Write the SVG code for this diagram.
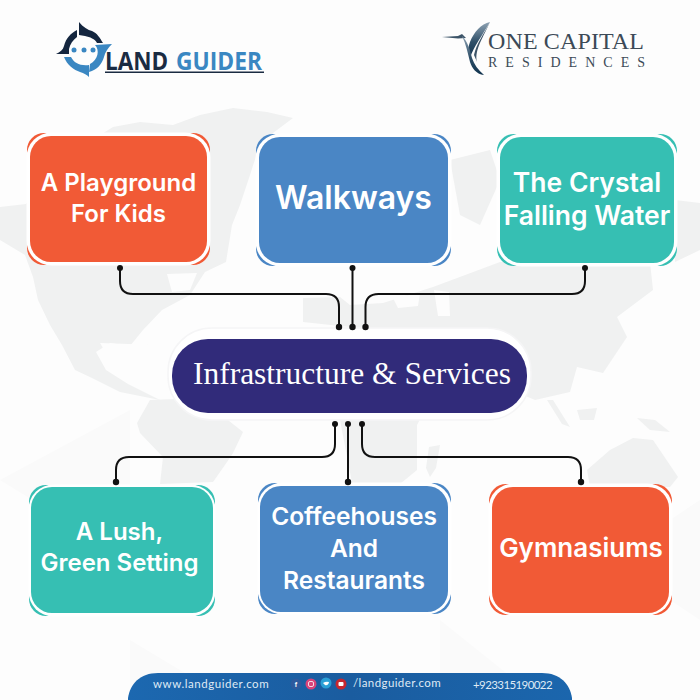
<svg xmlns="http://www.w3.org/2000/svg" width="700" height="700" viewBox="0 0 700 700">
  <style>
    .label { font-family: "Inter", "Liberation Sans", sans-serif; font-weight: 600; font-size: 24px; fill: #fff; text-anchor: middle; }
    .wire { fill: none; stroke: #111; stroke-width: 2; }
    .dot { fill: #111; }
    .halo { fill: #fff; }
    .orange { fill: #f15a36; }
    .blue { fill: #4a86c5; }
    .teal { fill: #36bfb3; }
    .land { fill: #f0f1f1; }
    .foot { font-family: "Lato", "Open Sans", sans-serif; font-size: 11.5px; fill: #dfeaf5; letter-spacing: .4px; }
    .brand { font-family: "Open Sans", sans-serif; font-weight: 700; font-size: 25px; }
  </style>
  <defs>
    <linearGradient id="footFill" x1="0" y1="0" x2="1" y2="0">
      <stop offset="0" stop-color="#1c68b0"/>
      <stop offset=".5" stop-color="#1a5c9f"/>
      <stop offset="1" stop-color="#1b66ad"/>
    </linearGradient>
    <linearGradient id="birdFill" x1="0" y1="0" x2="0" y2="1">
      <stop offset="0" stop-color="#8fa3b4"/>
      <stop offset=".55" stop-color="#2f5069"/>
      <stop offset="1" stop-color="#10324e"/>
    </linearGradient>
  </defs>

  <rect width="700" height="700" fill="#fdfdfd"/>
  <path fill="#fafafa" d="M130,640 L230,700 H130 Z M440,620 L540,700 H440 Z M0,480 L130,410 L130,560 Z M610,560 L700,500 V620 Z"/>

  <!-- world map backdrop -->
  <g id="map">
    <path class="land" d="M0,207 L26,204 L60,160 L113,127 L140,122 L173,125 L200,115 L233,108 L267,112 L293,118 L273,133 L258,150 L250,175 L240,205 L232,225 L226,262 L205,272 L190,295 L162,310 L143,330 L130,346 L110,343 L96,352 L106,370 L128,384 L160,400 L120,392 L92,378 L75,370 L62,345 L50,325 L38,300 L33,277 L25,255 L0,240 Z"/>
    <path class="land" d="M137,423 L150,400 L200,398 L243,432 L233,453 L227,462 L213,482 L160,484 L163,457 L140,433 Z"/>
    <path class="land" d="M303,298 L340,297 L350,305 L383,303 L433,287 L500,262 L650,262 L653,290 L617,317 L627,337 L603,373 L577,367 L570,392 L535,400 L500,385 L480,350 L430,340 L385,330 L340,326 L303,322 Z"/>
    <path class="land" d="M340,420 L360,328 L440,340 L430,400 L417,425 L417,470 L395,488 L353,488 Z"/>
    <path class="land" d="M450,160 L490,150 L500,180 L480,225 L460,215 Z"/>
    <path class="land" d="M675,200 L700,203 L700,250 L675,262 Z"/>
    <path class="land" d="M429,447 L440,445 L436,468 L430,477 L426,468 Z"/>
    <path class="land" d="M587,470 L610,450 L633,438 L653,440 L678,477 L670,487 L590,487 Z"/>
    <path class="land" d="M547,400 L553,400 L570,427 L562,424 Z"/>
    <path class="land" d="M577,410 L597,408 L594,420 L580,420 Z"/>
    <path class="land" d="M637,418 L655,420 L670,432 L650,430 Z"/>
    <path fill="#fdfdfd" d="M393,298 L420,293 L418,306 L398,308 Z"/>
    <path fill="#fdfdfd" d="M434,290 L449,292 L450,316 L438,316 Z"/>
    <path fill="#fdfdfd" d="M100,343 L157,345 L150,372 L115,368 Z"/>
    <path fill="#fdfdfd" d="M167,274 L197,273 L190,290 L172,292 Z"/>
  </g>

  <!-- centre pill -->
  <g id="hub">
    <rect x="168" y="328" width="363" height="92" rx="44" fill="#fff" stroke="#f5f5f6" stroke-width="1.500"/>
    <rect x="172" y="339" width="355" height="74" rx="36" fill="#312b7a"/>
    <text x="352" y="384" font-family="'Liberation Serif', serif" font-size="31.500" fill="#fff" text-anchor="middle" textLength="318">Infrastructure &amp; Services</text>
  </g>

  <!-- top row -->
  <g id="playground">
    <rect class="orange" x="27" y="133" width="183" height="132" rx="17"/>
    <rect class="halo" x="26.500" y="132.500" width="184" height="133" rx="25"/>
    <rect class="orange" x="30" y="136" width="177" height="126" rx="21"/>
    <text class="label" x="118.500" y="191">A Playground</text>
    <text class="label" x="118.500" y="222">For Kids</text>
  </g>
  <g id="walkways">
    <rect class="blue" x="256" y="134" width="195" height="132" rx="17"/>
    <rect class="halo" x="255.500" y="133.500" width="196" height="133" rx="25"/>
    <rect class="blue" x="259" y="137" width="189" height="126" rx="21"/>
    <text class="label" x="353.500" y="209" style="font-size:32px">Walkways</text>
  </g>
  <g id="crystal-water">
    <rect class="teal" x="497" y="134" width="180" height="132" rx="17"/>
    <rect class="halo" x="496.500" y="133.500" width="181" height="133" rx="25"/>
    <rect class="teal" x="500" y="137" width="174" height="126" rx="21"/>
    <text class="label" x="587" y="192" style="font-size:26.500px">The Crystal</text>
    <text class="label" x="587" y="225" style="font-size:26.500px">Falling Water</text>
  </g>

  <!-- bottom row -->
  <g id="green-setting">
    <rect class="teal" x="29" y="485" width="186" height="131" rx="17"/>
    <rect class="halo" x="28.500" y="484.500" width="187" height="132" rx="25"/>
    <rect class="teal" x="31" y="487" width="182" height="126" rx="21"/>
    <text class="label" x="119.500" y="540">A Lush,</text>
    <text class="label" x="119.500" y="571">Green Setting</text>
  </g>
  <g id="coffeehouses">
    <rect class="blue" x="258" y="483" width="193" height="131" rx="17"/>
    <rect class="halo" x="257.500" y="482.500" width="194" height="132" rx="25"/>
    <rect class="blue" x="260" y="486" width="188" height="126" rx="21"/>
    <text class="label" x="354" y="525" style="font-size:24.500px">Coffeehouses</text>
    <text class="label" x="354" y="557" style="font-size:24.500px">And</text>
    <text class="label" x="354" y="589" style="font-size:24.500px">Restaurants</text>
  </g>
  <g id="gymnasiums">
    <rect class="orange" x="489" y="484" width="183" height="131" rx="17"/>
    <rect class="halo" x="488.500" y="483.500" width="184" height="132" rx="25"/>
    <rect class="orange" x="492" y="487" width="177" height="126" rx="21"/>
    <text class="label" x="581" y="557" style="font-size:26px">Gymnasiums</text>
  </g>

  <!-- connectors -->
  <g id="connectors">
    <path class="wire" d="M120,268 V281 Q120,294 133,294 H326 Q339,294 339,307 V327"/>
    <path class="wire" d="M352.500,268 V327"/>
    <path class="wire" d="M585,268 V281 Q585,294 572,294 H378.500 Q365.500,294 365.500,307 V327"/>
    <path class="wire" d="M335,424 V444 Q335,457 322,457 H129 Q116,457 116,470 V482"/>
    <path class="wire" d="M348,424 V482"/>
    <path class="wire" d="M362,424 V444 Q362,457 375,457 H568 Q581,457 581,470 V482"/>
    <circle class="dot" cx="120" cy="268" r="3"/>
    <circle class="dot" cx="352.500" cy="268" r="3"/>
    <circle class="dot" cx="585" cy="268" r="3"/>
    <circle class="dot" cx="339" cy="327" r="3.200"/>
    <circle class="dot" cx="352.500" cy="327" r="3.200"/>
    <circle class="dot" cx="365.500" cy="327" r="3.200"/>
    <circle class="dot" cx="335" cy="424" r="3"/>
    <circle class="dot" cx="348" cy="424" r="3"/>
    <circle class="dot" cx="362" cy="424" r="3"/>
    <circle class="dot" cx="116" cy="482" r="3.200"/>
    <circle class="dot" cx="348" cy="482" r="3.200"/>
    <circle class="dot" cx="581" cy="482" r="3.200"/>
  </g>

  <!-- Land Guider mark -->
  <g id="land-guider">
    <path fill="#14263f" d="M56,54 C60,52 63,50 64,46 C66,38 71,33 77,30 L77,37 C73,40 70,44 69,49 L69,54 Z"/>
    <path fill="#14263f" d="M79,22 C83,27 88,30 92,31 C97,33 100,38 103,43 L97,43 C95,39 90,37 85,36 L79,35 Z"/>
    <path fill="#3a87c2" d="M112,44 L95,45 C100,50 98,60 90,64 L89,72 C97,70 102,64 104,57 C105,52 108,48 112,44 Z"/>
    <path fill="#3a87c2" d="M64,57 C67,65 74,70 80,72 C84,73 87,75 89,77 L89,65 C80,66 74,63 71,57 Z"/>
    <circle cx="74" cy="50" r="2.500" fill="#3a87c2"/>
    <circle cx="84" cy="50" r="2.500" fill="#3a87c2"/>
    <circle cx="93" cy="50" r="2.500" fill="#3a87c2"/>
    <text class="brand" x="105" y="70" fill="#1a2b42" textLength="63" lengthAdjust="spacingAndGlyphs">LAND</text>
    <text class="brand" x="176" y="70" fill="#3a87c2" textLength="86" lengthAdjust="spacingAndGlyphs">GUIDER</text>
    <rect x="105" y="71.500" width="159" height="1.500" fill="#1a2b42"/>
  </g>

  <!-- One Capital mark -->
  <g id="one-capital">
    <path fill="#3c5468" d="M442,37 L458,36 L462,34 L466,38 L458,38.500 Z"/>
    <path fill="url(#birdFill)" d="M490,22 C481,24 474,32 470,42 C467,50 469,54 470,58 C474,46 482,36 490,22 Z"/>
    <path fill="url(#birdFill)" d="M462,36 C468,42 470,50 472,58 C474,64 478,70 484,75 C476,74 472,68 470,62 C468,54 466,44 462,36 Z"/>
    <path fill="#3c5468" d="M490,22 C484,34 476,44 474,55 L477,62 C474,50 484,36 490,22 Z"/>
    <text x="488" y="49" font-family="'Liberation Serif', serif" font-size="24" fill="#3c4a57" textLength="156">ONE CAPITAL</text>
    <text x="488" y="66.500" font-family="'Liberation Serif', serif" font-size="14" fill="#3c4a57" textLength="157">RESIDENCES</text>
  </g>

  <!-- contact strip -->
  <g id="footer">
    <path fill="url(#footFill)" d="M128,700 V698 C130,684 140,673 158,673 H542 C560,673 570,684 572,698 V700 Z"/>
    <text class="foot" x="153" y="688" textLength="116">www.landguider.com</text>
    <circle cx="296" cy="684" r="5.500" fill="#2d5a9e"/>
    <circle cx="311" cy="684" r="5.500" fill="#d8437a"/>
    <circle cx="326" cy="683" r="5.500" fill="#2a9fd6"/>
    <circle cx="341" cy="684" r="5.500" fill="#c6272f"/>
    <text x="296" y="687" font-family="'Liberation Sans', sans-serif" font-size="7" font-weight="700" fill="#fff" text-anchor="middle">f</text>
    <rect x="308.500" y="681.500" width="5" height="5" rx="1.500" fill="none" stroke="#fff" stroke-width=".8"/>
    <path d="M323,683 Q326,681 329,682 Q328,686 325,685 Z" fill="#fff"/>
    <rect x="338.500" y="682" width="5" height="4" rx="1" fill="#fff"/>
    <text class="foot" x="353" y="687" textLength="88">/landguider.com</text>
    <text class="foot" x="473" y="689" textLength="80">+923315190022</text>
  </g>
</svg>
